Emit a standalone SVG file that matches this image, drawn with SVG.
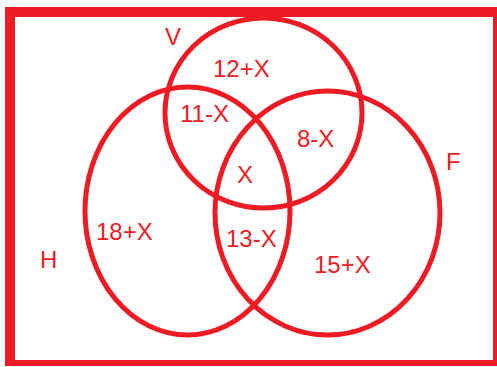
<svg xmlns="http://www.w3.org/2000/svg" width="497" height="367" viewBox="0 0 497 367">
<style>
.c{fill:none;stroke:#ed1c24;stroke-width:5}
.t{fill:#ed1c24;font-family:"Liberation Sans","Noto Sans",Arial,sans-serif;font-size:24px}
</style>
<rect width="497" height="367" fill="#fff"/>
<g id="frame">
<path d="M5,7H497V366H5Z M15,17V360H493V17Z" fill="#ed1c24" fill-rule="evenodd"/>
</g>
<g id="connectors"></g>
<g id="set-V">
<ellipse class="c" cx="263.5" cy="113" rx="98.5" ry="95"/>
<text class="t" x="165" y="45">V</text>
</g>
<g id="set-H">
<ellipse class="c" cx="187.5" cy="211" rx="102.5" ry="124"/>
<text class="t" x="40" y="268">H</text>
</g>
<g id="set-F">
<ellipse class="c" cx="327.5" cy="213" rx="112.5" ry="122"/>
<text class="t" x="446" y="170">F</text>
</g>
<g id="regions">
<text class="t" x="213" y="77">12+X</text>
<text class="t" x="180" y="122">11-X</text>
<text class="t" x="297" y="147">8-X</text>
<text class="t" x="237" y="183">X</text>
<text class="t" x="96" y="240">18+X</text>
<text class="t" x="226" y="247">13-X</text>
<text class="t" x="314" y="273">15+X</text>
</g>
</svg>
